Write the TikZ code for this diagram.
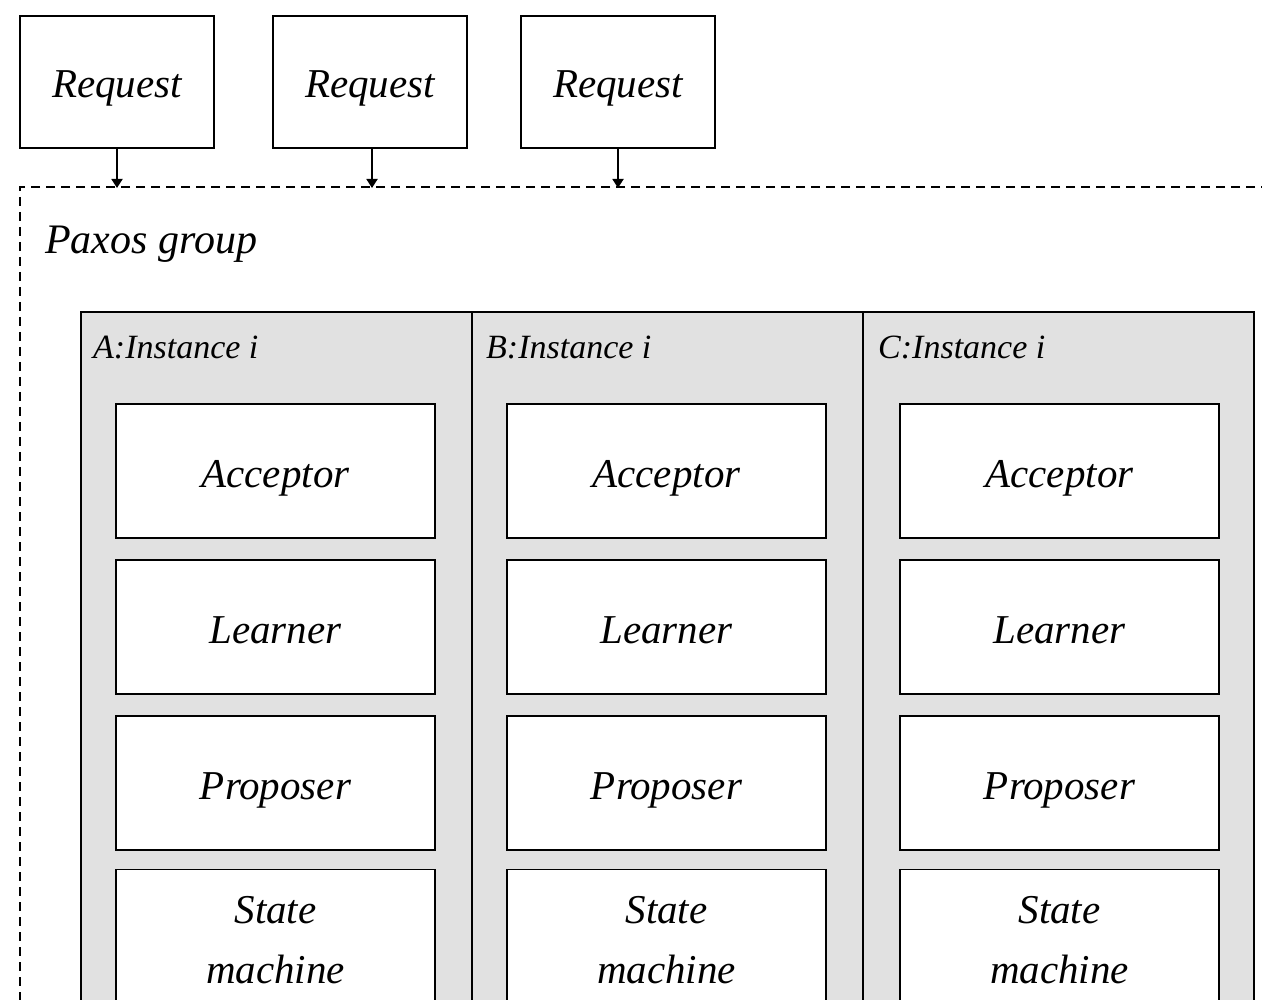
\documentclass[tikz,border=0pt]{standalone}
\usepackage{fontspec}
\setmainfont{Liberation Serif}
\usetikzlibrary{arrows.meta}
\definecolor{panelgray}{RGB}{225,225,225}
\tikzset{
  reqbox/.style={draw, line width=1.8pt, minimum width=194pt, minimum height=132pt, inner sep=0pt, font=\fontsize{41}{48}\selectfont\itshape, text height=33pt, text depth=2pt},
  panel/.style={draw, line width=1.8pt, fill=panelgray, minimum width=391pt, minimum height=700pt, inner sep=0pt},
  rolebox/.style={draw, line width=1.8pt, fill=white, minimum width=319pt, minimum height=134pt, inner sep=0pt, font=\fontsize{41}{48}\selectfont\itshape, text height=35pt, text depth=2pt},
  smbox/.style={draw, line width=1.8pt, fill=white, minimum width=319pt, minimum height=141pt, inner sep=0pt, align=center, font=\fontsize{41}{60}\selectfont\itshape},
  instlabel/.style={anchor=west, inner sep=0pt, font=\fontsize{34}{40}\selectfont\itshape},
  grouplabel/.style={anchor=west, inner sep=0pt, font=\fontsize{42}{48}\selectfont\itshape},
  dashedline/.style={line width=1.8pt, dash pattern=on 9pt off 6pt},
  feed/.style={line width=1.8pt, -{Triangle[length=9pt,width=11pt]}, shorten >=-1pt}
}
\begin{document}
\begin{tikzpicture}[x=1pt,y=-1pt]
\useasboundingbox (0,0) rectangle (1262,1000);
\clip (0,0) rectangle (1262,1000);
\fill[white] (0,0) rectangle (1262,1000);
% requests
\node[reqbox] (r1) at (117,82) {Request};
\node[reqbox] (r2) at (370,82) {Request};
\node[reqbox] (r3) at (618,82) {Request};
% paxos group dashed border
\coordinate (gtl) at (20,187);
\coordinate (gtr) at (1270,187);
\coordinate (gbl) at (20,1010);
\draw[dashedline] (gtr) -- (gtl) -- (gbl);
\coordinate (e1) at (117,187);
\coordinate (e2) at (372,187);
\coordinate (e3) at (618,187);
\draw[feed] (r1.south -| e1) -- (e1);
\draw[feed] (r2.south -| e2) -- (e2);
\draw[feed] (r3.south -| e3) -- (e3);
\node[grouplabel] (grp) at (45,244) {Paxos group};
% instance panels
\node[panel] (pA) at (276.5,662) {};
\node[panel] (pB) at (667.5,662) {};
\node[panel] (pC) at (1058.5,662) {};
\node[instlabel] (lA) at (93,347) {A:Instance i};
\node[instlabel] (lB) at (486,347) {B:Instance i};
\node[instlabel] (lC) at (878,347) {C:Instance i};
% role boxes
\foreach \c/\x in {A/275.5,B/666.5,C/1059.5}{
  \node[rolebox] (acc\c) at (\x,471) {Acceptor};
  \node[rolebox] (lrn\c) at (\x,627) {Learner};
  \node[rolebox] (prp\c) at (\x,783) {Proposer};
  \node[smbox] (sm\c) at (\x,940) {State\\machine};
}
\end{tikzpicture}
\end{document}
